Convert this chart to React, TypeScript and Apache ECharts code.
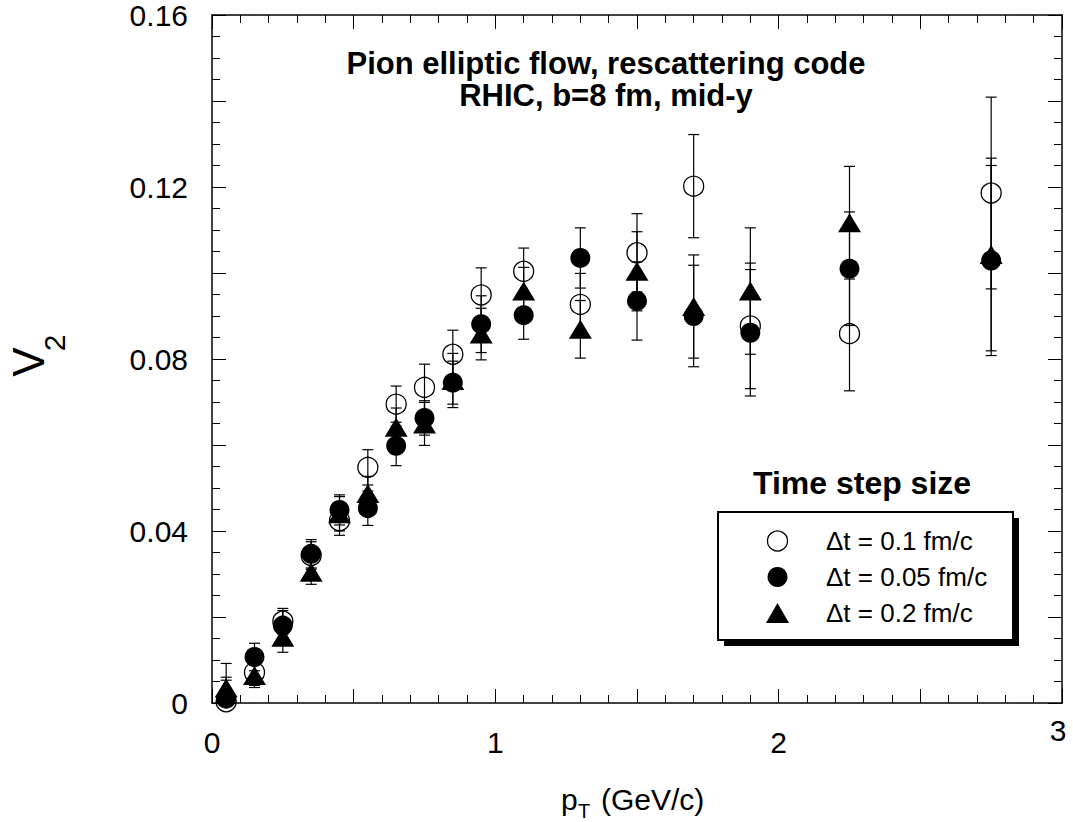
import React, { useEffect, useRef } from "react";
import * as echarts from "echarts";

// ---- data ----
const ptValues = [0.05, 0.15, 0.25, 0.35, 0.45, 0.55, 0.65, 0.75, 0.85, 0.95, 1.1, 1.3, 1.5, 1.7, 1.9, 2.25, 2.75];

// Δt = 0.1 fm/c (open circles)
const v2Dt01 = [0.0003, 0.0071, 0.019, 0.0343, 0.0424, 0.0548, 0.0695, 0.0734, 0.0811, 0.0949, 0.1004, 0.0927, 0.1047, 0.1202, 0.0877, 0.0859, 0.1186];
const errDt01 = [0.005, 0.003, 0.003, 0.0032, 0.0034, 0.0041, 0.0042, 0.0054, 0.0056, 0.0063, 0.0054, 0.0072, 0.0091, 0.012, 0.0146, 0.0133, 0.0223];

// Δt = 0.05 fm/c (filled circles)
const v2Dt005 = [0.001, 0.0107, 0.018, 0.0347, 0.0449, 0.0453, 0.0598, 0.0663, 0.0745, 0.0881, 0.0902, 0.1035, 0.0935, 0.09, 0.0861, 0.101, 0.1029];
const errDt005 = [0.005, 0.0032, 0.0035, 0.0033, 0.0035, 0.004, 0.0046, 0.004, 0.005, 0.0066, 0.0056, 0.007, 0.0091, 0.0118, 0.0147, 0.0132, 0.0221];

// Δt = 0.2 fm/c (filled triangles)
const v2Dt02 = [0.0035, 0.0064, 0.0153, 0.0304, 0.044, 0.0487, 0.0641, 0.0649, 0.075, 0.0858, 0.0958, 0.0869, 0.1004, 0.0922, 0.0958, 0.1117, 0.1043];
const errDt02 = [0.0057, 0.0028, 0.0035, 0.0028, 0.004, 0.004, 0.0045, 0.005, 0.0063, 0.006, 0.0055, 0.0067, 0.0092, 0.012, 0.0147, 0.0131, 0.0224];

const seriesNames = ["\u0394t = 0.1 fm/c", "\u0394t = 0.05 fm/c", "\u0394t = 0.2 fm/c"];
const titleLines = ["Pion elliptic flow, rescattering code", "RHIC, b=8 fm, mid-y"];
const legendTitle = "Time step size";
const xTickLabels = ["0", "1", "2", "3"];
const yTickLabels = ["0", "0.04", "0.08", "0.12", "0.16"];

const FONT = '"Liberation Sans", Arial, Helvetica, sans-serif';

export default function App() {
  const ref = useRef<HTMLDivElement>(null);

  useEffect(() => {
    const chart = echarts.init(ref.current!, null, { renderer: "svg" });

    const withErr = (ys: number[], errs: number[]) => ptValues.map((x, i) => [x, ys[i], errs[i]]);
    const pts = (ys: number[]) => ptValues.map((x, i) => [x, ys[i]]);

    const errBar = (name: string, data: number[][]) => ({
      type: "custom",
      name,
      data,
      z: 2,
      silent: true,
      encode: { x: 0, y: 1 },
      renderItem: (_params: any, api: any) => {
        const x = api.value(0);
        const y = api.value(1);
        const e = api.value(2);
        const top = api.coord([x, y + e]);
        const low = Math.max(y - e, 0);
        const bot = api.coord([x, low]);
        const hw = 5.5;
        const st = { stroke: "#000", lineWidth: 1.2 };
        const children: any[] = [
          { type: "line", shape: { x1: top[0], y1: top[1], x2: bot[0], y2: bot[1] }, style: st },
          { type: "line", shape: { x1: top[0] - hw, y1: top[1], x2: top[0] + hw, y2: top[1] }, style: st },
        ];
        if (y - e > 0) {
          children.push({ type: "line", shape: { x1: bot[0] - hw, y1: bot[1], x2: bot[0] + hw, y2: bot[1] }, style: st });
        }
        return { type: "group", children };
      },
    });

    const openStyle = { color: "rgba(0,0,0,0)", borderColor: "#000", borderWidth: 1.3, opacity: 1 };
    const fillStyle = { color: "#000", borderColor: "#000", borderWidth: 0, opacity: 1 };

    const xAxisBase = {
      type: "value",
      min: 0,
      max: 3,
      interval: 0.5,
      splitLine: { show: false },
      axisLine: { show: true, onZero: false, lineStyle: { color: "#000", width: 1.5 } },
      axisTick: { show: true, inside: true, length: 14, lineStyle: { color: "#000", width: 1 } },
      minorTick: { show: true, splitNumber: 5, length: 8, lineStyle: { color: "#000", width: 1 } },
      minorSplitLine: { show: false },
    };
    const yAxisBase = {
      type: "value",
      min: 0,
      max: 0.16,
      interval: 0.02,
      splitLine: { show: false },
      axisLine: { show: true, onZero: false, lineStyle: { color: "#000", width: 1.5 } },
      axisTick: { show: true, inside: true, length: 14, lineStyle: { color: "#000", width: 1 } },
      minorTick: { show: true, splitNumber: 4, length: 8, lineStyle: { color: "#000", width: 1 } },
      minorSplitLine: { show: false },
    };

    const option: any = {
      animation: false,
      backgroundColor: "#fff",
      textStyle: { fontFamily: FONT },
      grid: { left: 212, top: 13, width: 850, height: 690, containLabel: false },
      xAxis: [
        {
          ...xAxisBase,
          position: "bottom",
          axisLabel: {
            show: true,
            margin: 12,
            color: "#000",
            fontFamily: FONT,
            fontSize: 30,
            formatter: (v: number) => {
              const r = Math.round(v * 10) / 10;
              if (!Number.isInteger(r)) return "";
              const lab = xTickLabels[r];
              return r === 3 ? "{b|" + lab + "}" : "{a|" + lab + "}";
            },
            rich: {
              a: { fontSize: 30, fontFamily: FONT, color: "#000", padding: [12, 0, 0, 0] },
              b: { fontSize: 30, fontFamily: FONT, color: "#000", padding: [0, 8, 0, 0] },
            },
          },
        },
        { ...xAxisBase, position: "top", axisLabel: { show: false } },
      ],
      yAxis: [
        {
          ...yAxisBase,
          position: "left",
          axisLabel: {
            show: true,
            margin: 24,
            color: "#000",
            fontFamily: FONT,
            fontSize: 30,
            formatter: (v: number) => {
              const n = Math.round(v * 1000);
              if (n % 40 !== 0) return "";
              return yTickLabels[n / 40];
            },
          },
        },
        { ...yAxisBase, position: "right", axisLabel: { show: false } },
      ],
      legend: {
        data: [
          { name: seriesNames[0], icon: "circle", itemStyle: openStyle },
          { name: seriesNames[1], icon: "circle", itemStyle: fillStyle },
          { name: seriesNames[2], icon: "triangle", itemStyle: fillStyle },
        ],
        orient: "vertical",
        left: 766,
        top: 528,
        padding: 0,
        itemWidth: 23,
        itemHeight: 20,
        itemGap: 10,
        selectedMode: false,
        z: 10,
        textStyle: { fontSize: 26, lineHeight: 26, color: "#000", fontFamily: FONT, padding: [0, 0, 0, 32] },
      },
      graphic: {
        elements: [
          { type: "rect", z: 1, shape: { x: 724, y: 518, width: 295, height: 128 }, style: { fill: "#000" } },
          { type: "rect", z: 2, shape: { x: 718, y: 512, width: 295, height: 128 }, style: { fill: "#fff", stroke: "#000", lineWidth: 2 } },
          {
            type: "text", z: 3, x: 862, y: 483,
            style: { text: legendTitle, font: "bold 32px " + FONT, fill: "#000", align: "center", verticalAlign: "middle" },
          },
          {
            type: "text", z: 3, x: 606, y: 63,
            style: { text: titleLines[0], font: "bold 31px " + FONT, fill: "#000", align: "center", verticalAlign: "middle" },
          },
          {
            type: "text", z: 3, x: 606, y: 95,
            style: { text: titleLines[1], font: "bold 31px " + FONT, fill: "#000", align: "center", verticalAlign: "middle" },
          },
          // y-axis name V_2
          {
            type: "text", z: 3, x: 28, y: 362, rotation: Math.PI / 2,
            style: { text: "V", font: "44px " + FONT, fill: "#000", align: "center", verticalAlign: "middle" },
          },
          {
            type: "text", z: 3, x: 54, y: 343, rotation: Math.PI / 2,
            style: { text: "2", font: "30px " + FONT, fill: "#000", align: "center", verticalAlign: "middle" },
          },
          // x-axis name p_T (GeV/c)
          {
            type: "text", z: 3, x: 561, y: 799.6,
            style: { text: "p", font: "30px " + FONT, fill: "#000", align: "left", verticalAlign: "middle" },
          },
          {
            type: "text", z: 3, x: 578, y: 810.6,
            style: { text: "T", font: "20px " + FONT, fill: "#000", align: "left", verticalAlign: "middle" },
          },
          {
            type: "text", z: 3, x: 601, y: 799.6,
            style: { text: "(GeV/c)", font: "30px " + FONT, fill: "#000", align: "left", verticalAlign: "middle" },
          },
        ],
      },
      series: [
        errBar("err01", withErr(v2Dt01, errDt01)),
        errBar("err005", withErr(v2Dt005, errDt005)),
        errBar("err02", withErr(v2Dt02, errDt02)),
        {
          type: "scatter", name: seriesNames[0], data: pts(v2Dt01), z: 3, silent: true,
          symbol: "circle", symbolSize: 20, itemStyle: openStyle, emphasis: { disabled: true },
        },
        {
          type: "scatter", name: seriesNames[1], data: pts(v2Dt005), z: 4, silent: true,
          symbol: "circle", symbolSize: 20, itemStyle: fillStyle, emphasis: { disabled: true },
        },
        {
          type: "scatter", name: seriesNames[2], data: pts(v2Dt02), z: 5, silent: true,
          symbol: "triangle", symbolSize: [23, 19], itemStyle: fillStyle, emphasis: { disabled: true },
        },
      ],
    };

    chart.setOption(option);
    return () => chart.dispose();
  }, []);

  return (
    <div
      ref={ref}
      style={{ position: "fixed", left: 0, top: 0, width: 1073, height: 822, background: "#fff" }}
    />
  );
}
